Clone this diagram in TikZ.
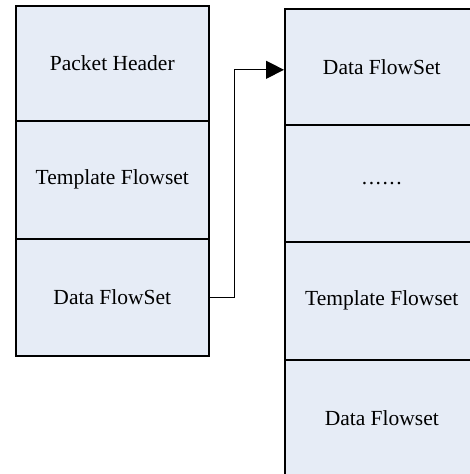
\documentclass[tikz,border=0pt]{standalone}
\usepackage{fontspec}
\setmainfont{Liberation Serif}
\usetikzlibrary{arrows.meta}
\definecolor{cellfill}{RGB}{230,236,246}
\begin{document}
\begin{tikzpicture}[x=1pt,y=-1pt,
  cell/.style={draw=black, fill=cellfill, line width=1.6pt, anchor=north west,
    inner sep=0pt, font=\fontsize{21.5}{25}\selectfont},
  leftcell/.style={cell, minimum width=193pt},
  rightcell/.style={cell, minimum width=194pt},
  conn/.style={draw=black, line width=1.2pt, -{Triangle[length=18pt,width=18pt]}}]
\useasboundingbox (0,0) rectangle (470,474);
\clip (0,0) rectangle (470,474);
\node[leftcell, minimum height=115pt] (l1) at (15,5) {Packet Header};
\node[leftcell, minimum height=118pt] (l2) at (15,120) {Template Flowset};
\node[leftcell, minimum height=117pt] (l3) at (15,238) {Data FlowSet};
\node[rightcell, minimum height=116pt] (r1) at (284,8) {Data FlowSet};
\node[rightcell, minimum height=117pt] (r2) at (284,124) {.\kern1.5pt.\kern1.5pt.\kern1.5pt.\kern1.5pt.\kern1.5pt.};
\node[rightcell, minimum height=118pt] (r3) at (284,241) {Template Flowset};
\node[rightcell, minimum height=117pt] (r4) at (284,359) {Data Flowset};
\draw[conn] (l3.east) -- ++(25,0) |- ([yshift=-3pt]r1.west);
\end{tikzpicture}
\end{document}
